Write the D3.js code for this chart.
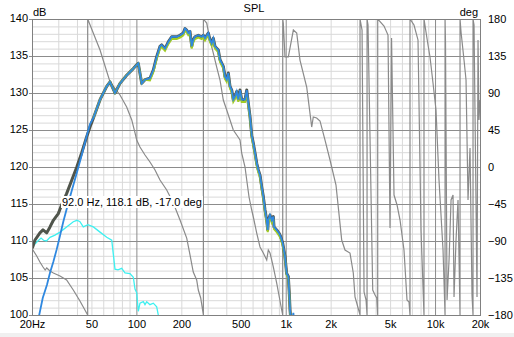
<!DOCTYPE html>
<html><head><meta charset="utf-8">
<script src="https://cdn.jsdelivr.net/npm/d3@7"></script>
<style>
html,body{margin:0;padding:0;background:#fff;overflow:hidden;}
svg{display:block;font-family:"Liberation Sans",Arial,sans-serif;}
</style></head><body><svg id="c" width="514" height="337"></svg>
<script>
// ---------- data ----------
const xTickValues = [20,50,100,200,500,1000,2000,5000,10000,20000];
const xTickLabels = ["20Hz","50","100","200","500","1k","2k","5k","10k","20k"];
const yTicks = [100,105,110,115,120,125,130,135,140];
const phaseTicks = [-180,-135,-90,-45,0,45,90,135,180];
const majorFreqs = [100,1000,10000];
const minorFreqs = [30,40,50,60,70,80,90,200,300,400,500,600,700,800,900,2000,3000,4000,5000,6000,7000,8000,9000];

const freqMain = [20.1,20.9,22.6,23.7,25.1,26.4,27.8,30.0,31.6,34.1,36.9,39.9,43.0,46.5,48.9,
 51.5,57.1,63.3,66.6,71.9,77.7,86.1,95.4,100.5,103,108.6,114.2,123.3,129.8,136.8,143.9,147.8,155.5,163.6,172.4,
 186.2,196,206.2,211.6,217.3,222.7,228.6,234.7,240.4,246.8,259.8,273.8,280.6,288.1,303.1,311.1,319.4,327.4,336.1,
 353.6,363.1,382,392.2,402.6,412.6,423.6,434.9,445.7,457.6,469.7,481.5,494.3,507.4,534,548.2,561.9,576.8,592,
 606.9,623,639.5,655.5,672.9,690.8,708,726.8,746.1,757.7,764.7,785,805.9,826,834.9,870.2,905.9,925.5,954.6,989,
 1015,1041,1057,1069,1083];
const splTotal = [109.0,110.1,111.1,111.5,111.1,111.9,112.8,113.7,114.9,116.4,118.2,120.0,121.9,124.1,125.4,
 126.6,129.1,130.9,131.5,130.0,131.3,132.4,133.3,133.8,134.0,131.3,131.8,132.0,133.1,134.9,136.3,136.5,136.0,136.9,137.6,
 137.6,137.8,138.1,138.7,138.5,138.1,138.3,136.3,137.2,137.6,137.8,137.6,137.8,137.4,138.1,137.2,136.7,137.4,136.3,
 135.8,134.5,133.6,132.2,131.8,132.7,130.9,130.4,129.1,129.5,130.2,129.1,130.4,129.1,129.1,130.4,128.6,126.8,124.3,
 123.2,121.9,120.5,119.6,118.9,117.3,116.0,114.2,112.8,111.5,112.8,113.5,112.8,113.3,111.9,111.5,111.0,110.6,109.7,107.9,
 105.6,105.2,102.9,100.7,99.3];

const blueLowFreq = [22.3,23.6,25.2,26.4,27.8,29.3,30.8,32.4,34.1,36.9,39.9,43.0,46.5,48.9];
const blueLowDb   = [99.9,102.3,104.1,105.7,107.2,108.9,110.7,112.6,114.3,116.8,119.2,121.6,124.2,125.8];
const blueHighDb = [126.6,129.1,130.9,131.5,130.0,131.3,132.4,133.3,133.8,134.0,131.3,131.8,132.0,133.1,134.9,136.3,136.5,136.0,136.9,137.6,
 137.6,137.8,138.1,138.7,138.5,138.1,138.3,136.3,137.2,137.6,137.8,137.6,137.8,137.4,138.1,137.2,136.7,137.4,136.3,
 135.8,134.5,133.6,132.2,131.8,132.7,130.9,130.4,129.1,129.5,130.2,129.1,130.4,129.1,129.1,130.4,128.6,126.8,124.3,
 123.2,121.9,120.5,119.6,118.9,117.3,116.0,114.2,112.8,111.5,112.8,113.5,112.8,113.3,111.9,111.5,111.0,110.6,109.7,107.9,
 105.6,105.2,102.9,100.7,99.3];
const blueTailFreq = [1097,1125,1150];
const blueTailDb = [98.8,100.3,98.5];

const greenDb = [126.6,129.1,130.9,131.5,130.0,131.3,132.4,133.3,133.8,134.0,131.3,131.8,
 131.7,132.8,134.6,136.0,136.2,135.7,136.6,137.3,137.3,137.5,137.8,138.4,138.2,137.8,138.0,136.0,136.9,137.3,137.5,137.3,
 137.5,137.1,137.8,136.9,136.4,137.1,136.0,135.5,134.2,133.3,131.9,131.5,132.4,130.6,130.1,128.8,129.2,129.9,128.8,130.1,
 128.8,128.8,130.1,128.3,126.5,124.0,122.9,121.6,120.2,119.3,118.6,117.0,115.7,113.9,112.5,111.2,112.5,113.2,112.5,113.0,
 111.6,111.2,110.7,110.3,109.4,107.7,105.4,105.0,102.7,100.5,99.1];

const cyanFreq = [20,20.9,21.9,23.0,23.9,25.0,26.4,28.5,30.8,34.1,37.8,40,41.9,44.1,47.4,51.5,57.1,63.3,68.4,70.1,71.9,
 75.3,79.7,83.9,90.6,95.4,97.9,100.5,103,105.7,111.3,114.2,117.3,123.3,129.8,136.8,140.2,141.5];
const cyanDb = [109.1,109.6,110.0,110.4,110.1,110.0,110.5,110.8,111.2,111.9,112.6,112.8,112.6,111.9,112.2,111.9,111.2,110.5,110.1,108.2,106.2,
 106.1,106.3,105.7,105.6,105.1,103.5,103.0,100.5,101.6,101.8,101.4,101.8,101.4,101.6,101.1,100.0,99.4];

const phaseFreq = [20.1,21.5,22.6,23.7,24.5,25.1,26.4,27.8,30.8,34.1,37.8,41.9,47.2,
 47.2,57.1,66.6,77.7,86.1,93.1,97.9,100.5,105.7,114.2,123.3,133.3,143.9,159.6,176.7,196,217.3,228.6,240.4,253.4,259.8,269.6,281,
 281,295.7,311.1,327.4,345,363.1,382,402.6,423.6,445.7,469.7,494.3,507.4,534,548.2,568,592,606.9,639.5,672.9,708,746.1,764.7,785,826,870.2,905.9,940,955,
 955,963.4,989,1041,1125,1185,1246,1382,1493,1530,1612,1697,1833,1980,2171,2371,2495,2694,2835,2911,2989,3145,
 3145,3245,3346,3451,3505,
 3505,3558,3825,3964,4069,4131,
 4131,4553,4842,4995,5113,5312,5564,5828,6195,6490,6695,6797,
 6797,7228,7689,8053,8433,
 8433,8973,9253,9690,10150,10630,11310,11668,
 11668,11750,12034,12410,12800,13197,13400,13820,14250,14700,
 14700,14930,15630,16126,16630,17147,17680,17960,
 17960,18240,18800,19100,19400,19690,20000];
const phaseDeg = [-99.7,-108.2,-115.5,-121.6,-125.3,-122.8,-126.5,-128.9,-132.6,-137.4,-149.6,-163.0,-180,
 180,142.3,103.4,87.6,73.0,57.2,41.4,32.9,24.3,14.6,6.1,-3.6,-15.8,-28.0,-43.8,-64.5,-86.4,-107.0,-127.7,-137.4,-149.6,-159.3,-180,
 180,175.1,154.5,138.6,121.6,105.8,81.5,69.3,57.2,45.0,38.9,32.8,17.0,0.0,-15.8,-36.5,-52.3,-60.8,-80.3,-97.3,-104.6,-113.1,-100.9,-104.6,-121.6,-141.1,-158.1,-173.9,-180,
 180,175.1,133.8,133.8,166.6,163.0,130.1,97.3,48.6,60.8,59.6,56.0,32.8,8.5,-21.9,-88.8,-101.0,-104.6,-128.9,-158.1,-165.4,-180,
 180,166.6,-152.0,-161.8,-180,
 180,172.7,-149.6,-155.7,-159.3,-180,
 180,171.5,160.5,-74.2,156.9,-34.1,-46.2,-64.5,-100.9,-161.8,-164.2,-180,
 180,172.7,154.5,-76.6,-180,
 180,148.4,133.8,102.2,69.3,-15.8,-100.9,-180,
 180,152.0,-161.8,-113.1,-40.1,-34.1,-158.1,-88.8,-40.1,-180,
 180,164.2,130.1,105.8,-40.1,23.1,-155.7,-180,
 180,172.7,-40.1,-158.1,154.5,57.2,81.5];

const cursorText = "92.0 Hz, 118.1 dB, -17.0 deg";

// ---------- layout ----------
const X0 = 32, X1 = 480, Y0 = 19, Y1 = 315;
const svg = d3.select("#c");
svg.append("rect").attr("x",0).attr("y",0).attr("width",514).attr("height",337).attr("fill","#fff");
svg.append("rect").attr("x",0).attr("y",333).attr("width",514).attr("height",4).attr("fill","#f0f0f0");

const x = d3.scaleLog().domain([20,20000]).range([X0,X1]);
const y = d3.scaleLinear().domain([100,140]).range([Y1,Y0]);
const yp = d3.scaleLinear().domain([-180,180]).range([Y1,Y0]);

const FS = "11px";

// minor grid
const minorDb = d3.range(101,140).filter(v => v % 5 !== 0);
svg.append("g").attr("transform",`translate(0,${Y1})`)
  .call(d3.axisBottom(x).tickValues(minorFreqs).tickSize(-(Y1-Y0)).tickFormat(""))
  .call(g=>{g.select(".domain").remove(); g.selectAll("line").attr("stroke","#d9d9d9");});
svg.append("g").attr("transform",`translate(${X0},0)`)
  .call(d3.axisLeft(y).tickValues(minorDb).tickSize(-(X1-X0)).tickFormat(""))
  .call(g=>{g.select(".domain").remove(); g.selectAll("line").attr("stroke","#d9d9d9");});
// major grid
svg.append("g").attr("transform",`translate(0,${Y1})`)
  .call(d3.axisBottom(x).tickValues(majorFreqs).tickSize(-(Y1-Y0)).tickFormat(""))
  .call(g=>{g.select(".domain").remove(); g.selectAll("line").attr("stroke","#8c8c8c");});
svg.append("g").attr("transform",`translate(${X1},0)`)
  .call(d3.axisLeft(y).tickValues(yTicks).tickSize(X1-X0+3).tickFormat(""))
  .call(g=>{g.select(".domain").remove(); g.selectAll("line").attr("stroke","#8c8c8c");});

// border
svg.append("rect").attr("x",X0+0.5).attr("y",Y0+0.5).attr("width",X1-X0).attr("height",Y1-Y0)
  .attr("fill","none").attr("stroke","#808080");

// axes labels
const gl = svg.append("g").attr("transform",`translate(${X0},0)`)
  .call(d3.axisLeft(y).tickValues(yTicks).tickSize(3).tickPadding(1));
gl.select(".domain").remove();
gl.selectAll("line").attr("stroke","#8c8c8c");
gl.selectAll("text").attr("font-size",FS).attr("dy","0.24em").attr("font-family","Liberation Sans, Arial").attr("fill","#000");

const gr = svg.append("g").attr("transform",`translate(${X1},0)`)
  .call(d3.axisRight(yp).tickValues(phaseTicks).tickSize(0).tickPadding(8));
gr.select(".domain").remove();
gr.selectAll("text").attr("font-size",FS).attr("dy","0.28em").attr("font-family","Liberation Sans, Arial").attr("fill","#000");

const gb = svg.append("g").attr("transform",`translate(0,${Y1})`)
  .call(d3.axisBottom(x).tickValues(xTickValues).tickFormat((d,i)=>xTickLabels[i]).tickSize(0).tickPadding(5));
gb.select(".domain").remove();
gb.selectAll("text").attr("font-size",FS).attr("font-family","Liberation Sans, Arial").attr("fill","#000");

svg.append("text").attr("x",X0+1).attr("y",16).attr("font-size",FS).text("dB");
svg.append("text").attr("x",X1-2).attr("y",16).attr("text-anchor","end").attr("font-size",FS).text("deg");
svg.append("text").attr("x",254).attr("y",12).attr("text-anchor","middle").attr("font-size",FS).text("SPL");

// clip
svg.append("clipPath").attr("id","clip").append("rect")
  .attr("x",X0+1).attr("y",Y0+1).attr("width",X1-X0-1).attr("height",Y1-Y0-1);
const plot = svg.append("g").attr("clip-path","url(#clip)");

function pts(fs, vs){ return fs.map((f,i)=>[f, vs[i]]); }
const lineDb = d3.line().x(d=>x(d[0])).y(d=>y(d[1]));
const linePh = d3.line().x(d=>x(d[0])).y(d=>yp(d[1]));

plot.append("path").datum(pts(phaseFreq,phaseDeg)).attr("d",linePh)
  .attr("fill","none").attr("stroke","#8a8a8a").attr("stroke-width",1.2);
plot.append("path").datum(pts(cyanFreq,cyanDb)).attr("d",lineDb)
  .attr("fill","none").attr("stroke","#3ef0f0").attr("stroke-width",1.3);
plot.append("path").datum(pts(freqMain,splTotal)).attr("d",lineDb)
  .attr("fill","none").attr("stroke","#4f544b").attr("stroke-width",3).attr("stroke-linejoin","round");
const highFreq = freqMain.slice(15);
plot.append("path").datum(pts(highFreq,greenDb)).attr("d",lineDb)
  .attr("fill","none").attr("stroke","#a2cc24").attr("stroke-width",2);
plot.append("path").datum(pts(blueLowFreq.concat(highFreq,blueTailFreq), blueLowDb.concat(blueHighDb,blueTailDb))).attr("d",lineDb)
  .attr("fill","none").attr("stroke","#2f88e0").attr("stroke-width",1.8);

// cursor annotation
const ann = svg.append("g");
const at = ann.append("text").attr("x",62).attr("y",206).attr("font-size",FS).attr("fill","#000").text(cursorText);
const bb = at.node().getBBox();
ann.insert("rect","text").attr("x",bb.x-1).attr("y",bb.y).attr("width",bb.width+2).attr("height",bb.height).attr("fill","#fff");
</script></body></html>
